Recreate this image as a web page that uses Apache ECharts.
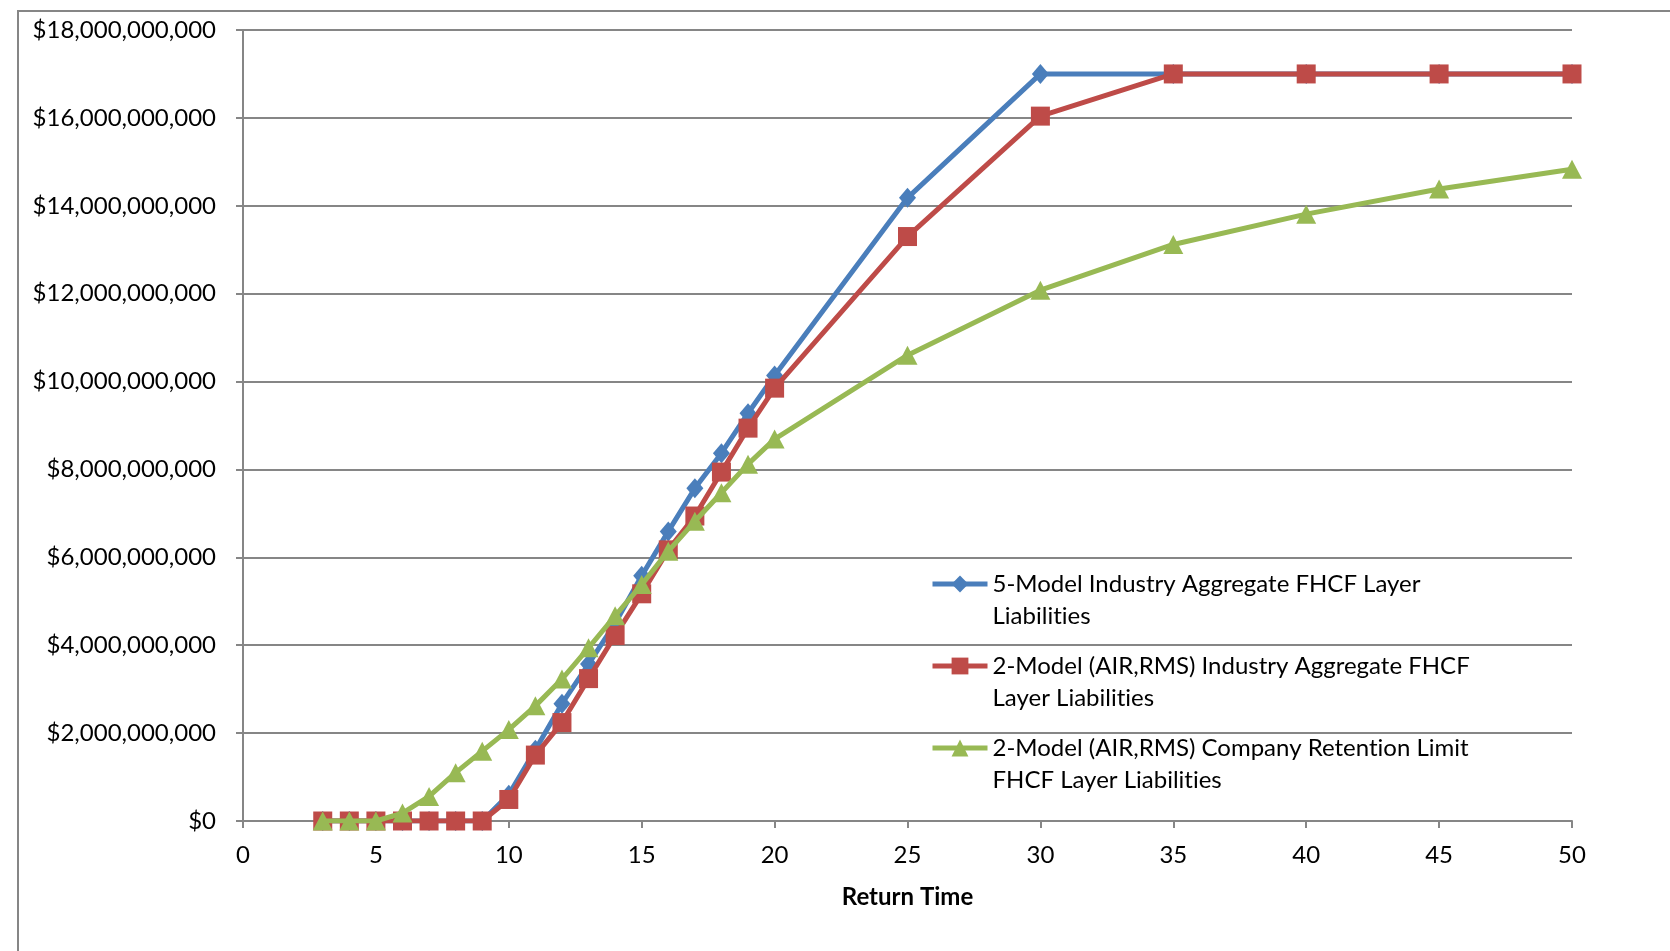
<!DOCTYPE html>
<html>
<head>
<meta charset="utf-8">
<script src="https://cdn.jsdelivr.net/npm/echarts@6/dist/echarts.min.js"></script>
<style>
html,body{margin:0;padding:0;background:#fff;}
#chart{width:1670px;height:951px;}
</style>
</head>
<body>
<div id="chart"></div>
<script>
var returnTimes = [3,4,5,6,7,8,9,10,11,12,13,14,15,16,17,18,19,20,25,30,35,40,45,50];
var fiveModel = [0,0,0,0,0,0,0,0.6,1.62,2.67,3.57,4.5,5.58,6.59,7.57,8.37,9.28,10.14,14.18,17.0,17.0,17.0,17.0,17.0];
var twoModelIndustry = [0,0,0,0,0,0,0,0.49,1.5,2.24,3.24,4.22,5.17,6.17,6.94,7.94,8.94,9.85,13.3,16.04,17.0,17.0,17.0,17.0];
var twoModelCompany = [0,0,0,0.18,0.56,1.1,1.59,2.08,2.62,3.23,3.94,4.67,5.38,6.14,6.82,7.47,8.12,8.69,10.6,12.08,13.12,13.81,14.38,14.83];
var seriesNames = [
  '5-Model Industry Aggregate FHCF Layer\nLiabilities',
  '2-Model (AIR,RMS) Industry Aggregate FHCF\nLayer Liabilities',
  '2-Model (AIR,RMS) Company Retention Limit\nFHCF Layer Liabilities'
];
var xTitle = 'Return Time';

// avoid font ligatures (e.g. "ti") in canvas text
(function(){
  var P = CanvasRenderingContext2D.prototype, f = P.fillText;
  P.fillText = function(){ try { this.textRendering = 'optimizeSpeed'; } catch(e){} return f.apply(this, arguments); };
})();

function pairs(vals){ return returnTimes.map(function(x,i){ return [x, vals[i]*1e9]; }); }
function money(v){
  var s = Math.round(v).toString().replace(/\B(?=(\d{3})+(?!\d))/g, ',');
  return '$' + s;
}

var FONT = 'Lato';
var FS = 24;
var colors = ['#4A7EBB','#BE4B48','#98B954'];
var symbols = ['diamond','rect','triangle'];
var symbolSizes = [[17,20],19,[20,19]];
var dataSets = [fiveModel, twoModelIndustry, twoModelCompany];
var legendTops = [536, 618, 700];

var chart = echarts.init(document.getElementById('chart'));
var series = dataSets.map(function(d,i){
  return {
    name: seriesNames[i],
    type: 'line',
    data: pairs(d),
    symbol: symbols[i],
    symbolSize: symbolSizes[i],
    showAllSymbol: true,
    lineStyle: {color: colors[i], width: 5},
    itemStyle: {color: colors[i]},
    emphasis: {disabled: true},
    animation: false,
    z: 2 + i
  };
});
var legends = seriesNames.map(function(n,i){
  return {
    data: [n],
    left: 930,
    top: legendTops[i],
    orient: 'vertical',
    padding: 0,
    itemWidth: 55,
    itemHeight: 21,
    itemGap: 5,
    lineStyle: {width: 5},
    formatter: function(name){ return '\n' + name; },
    textStyle: {fontFamily: FONT, fontSize: FS, color: '#000', lineHeight: 32},
    selectedMode: false
  };
});

chart.setOption({
  backgroundColor: '#fff',
  animation: false,
  grid: {left: 243, right: 98, top: 30, bottom: 130, containLabel: false},
  xAxis: {
    type: 'value', min: 0, max: 50, interval: 5,
    name: xTitle, nameLocation: 'middle', nameGap: 64,
    nameTextStyle: {fontFamily: FONT, fontSize: FS, fontWeight: 'bold', color: '#000'},
    axisLine: {show: true, onZero: false, lineStyle: {color: '#868686', width: 2}},
    axisTick: {show: true, length: 7, lineStyle: {color: '#868686', width: 2}},
    axisLabel: {fontFamily: FONT, fontSize: FS, color: '#000', margin: 22},
    splitLine: {show: false}
  },
  yAxis: {
    type: 'value', min: 0, max: 18e9, interval: 2e9,
    axisLine: {show: true, lineStyle: {color: '#868686', width: 2}},
    axisTick: {show: true, length: 7, lineStyle: {color: '#868686', width: 2}},
    axisLabel: {fontFamily: FONT, fontSize: FS, color: '#000', margin: 27, formatter: money},
    splitLine: {show: true, lineStyle: {color: '#868686', width: 2}}
  },
  legend: legends,
  graphic: [{
    type: 'polyline',
    shape: {points: [[18,951],[18,11],[1670,11]]},
    style: {stroke: '#868686', lineWidth: 2, fill: null},
    silent: true
  }],
  series: series
});
</script>
</body>
</html>
